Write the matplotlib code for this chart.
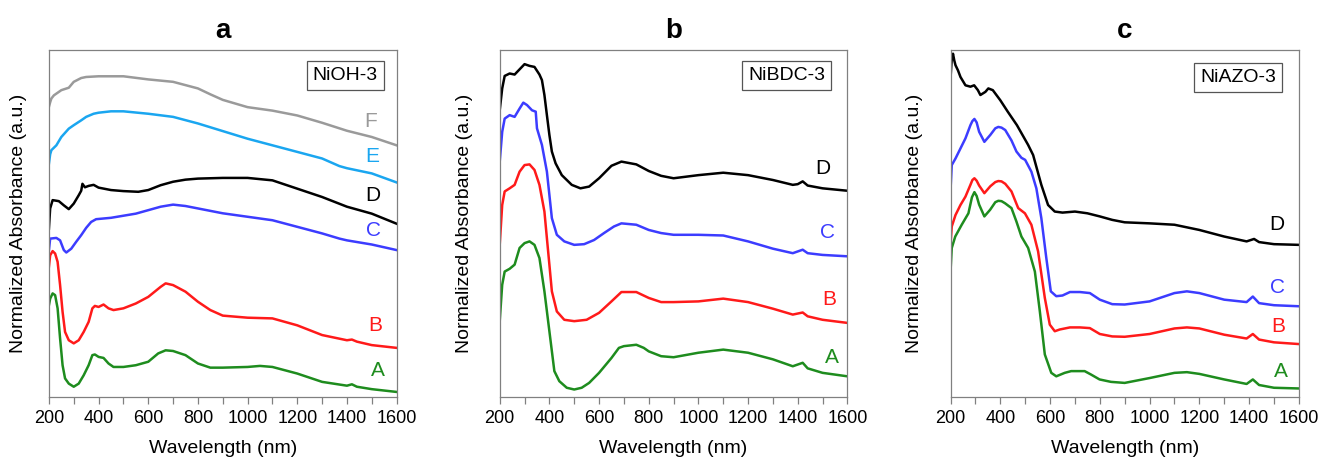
import matplotlib
matplotlib.use('Agg')
import matplotlib.pyplot as plt
from matplotlib.ticker import MultipleLocator

plt.rcParams['font.family'] = ['Liberation Sans', 'DejaVu Sans']

GREEN = '#1e8c1e'
RED = '#ff1a1a'
BLUE = '#3c3cff'
SKY = '#1aa6f0'
GREY = '#9a9a9a'
BLACK = '#000000'

# ---- panel a : NiOH-3 ----
nioh_A_wl = [200, 205, 215, 225, 235, 245, 255, 265, 280, 300, 320, 340, 360, 375, 385, 400, 420, 440, 460,
             500, 550, 600, 640, 670, 700, 750, 800, 850, 900, 1000, 1050, 1100, 1200, 1300, 1400, 1420,
             1440, 1500, 1600]
nioh_A = [26.5, 28.4, 29.9, 29.4, 25.6, 16.9, 9.2, 5.4, 3.9, 3.0, 3.9, 6.3, 9.2, 12.1, 12.3, 11.6, 11.3, 9.7,
          8.7, 8.7, 9.2, 10.2, 12.6, 13.5, 13.3, 12.1, 9.7, 8.5, 8.5, 8.7, 9.0, 8.7, 6.8, 4.4, 3.3, 3.7,
          3.0, 2.3, 1.5]
nioh_B_wl = [200, 205, 215, 225, 235, 245, 255, 265, 280, 300, 320, 340, 360, 375, 385, 400, 420, 440, 460,
             500, 550, 600, 650, 670, 700, 750, 800, 850, 900, 1000, 1100, 1200, 1300, 1400, 1420, 1440,
             1500, 1600]
nioh_B = [37.6, 40.9, 42.1, 41.4, 39.0, 32.3, 24.6, 18.8, 16.4, 15.5, 16.4, 18.8, 21.7, 25.6, 26.3, 26.0,
          26.7, 25.6, 25.1, 25.6, 27.0, 28.9, 31.8, 32.8, 32.3, 30.4, 27.5, 25.1, 23.5, 22.9, 22.7, 20.7,
          17.9, 16.4, 16.6, 16.0, 15.0, 14.2]
nioh_C_wl = [200, 205, 230, 245, 260, 270, 290, 310, 330, 350, 370, 390, 420, 450, 500, 550, 600, 650, 700,
             750, 800, 900, 1000, 1100, 1200, 1300, 1370, 1400, 1500, 1600]
nioh_C = [42.4, 45.7, 45.9, 45.2, 42.4, 41.7, 42.8, 44.8, 46.7, 48.8, 50.5, 51.3, 51.5, 51.7, 52.3, 52.9,
          53.9, 54.9, 55.5, 55.1, 54.4, 53.0, 52.0, 51.0, 49.1, 47.2, 45.7, 45.2, 44.0, 42.4]
nioh_D_wl = [200, 205, 215, 240, 260, 280, 300, 320, 330, 335, 345, 360, 380, 400, 450, 500, 560, 600, 650,
             700, 750, 800, 900, 1000, 1100, 1200, 1300, 1400, 1450, 1500, 1600]
nioh_D = [48.6, 54.4, 56.8, 56.5, 55.3, 54.2, 55.8, 58.2, 59.5, 61.5, 60.5, 60.9, 61.2, 60.4, 59.7, 59.4,
          59.2, 59.7, 61.1, 62.1, 62.7, 63.0, 63.2, 63.2, 62.5, 60.1, 57.7, 54.9, 53.9, 52.9, 50.0]
nioh_E_wl = [200, 205, 210, 230, 250, 280, 300, 330, 340, 350, 380, 400, 450, 500, 600, 700, 800, 850, 900,
             1000, 1100, 1200, 1300, 1370, 1400, 1500, 1600]
nioh_E = [67.3, 70.0, 71.2, 72.6, 75.0, 77.4, 78.4, 79.8, 80.3, 80.8, 81.7, 82.0, 82.4, 82.4, 81.7, 80.8,
          78.9, 77.8, 76.7, 74.5, 72.6, 70.7, 68.8, 66.6, 66.0, 64.5, 61.9]
nioh_F_wl = [200, 205, 210, 220, 250, 280, 300, 330, 350, 400, 500, 600, 700, 800, 850, 900, 1000, 1100,
             1200, 1300, 1400, 1500, 1600]
nioh_F = [83.7, 85.0, 86.1, 87.0, 88.5, 89.2, 90.9, 92.0, 92.3, 92.5, 92.5, 91.6, 90.9, 89.0, 87.3, 85.7,
          83.6, 82.6, 81.2, 79.1, 76.8, 75.0, 72.6]

# ---- panel b : NiBDC-3 ----
nibdc_A_wl = [200, 210, 220, 240, 260, 280, 300, 320, 340, 350, 360, 380, 400, 420, 440, 470, 500, 530, 560,
              600, 650, 680, 700, 750, 780, 800, 850, 900, 1000, 1100, 1200, 1300, 1380, 1420, 1440, 1500,
              1600]
nibdc_A = [21.9, 32.4, 36.2, 37.0, 38.2, 43.0, 44.4, 44.9, 43.9, 42.0, 40.1, 30.5, 19.0, 7.5, 4.6, 2.7, 2.2,
           2.7, 4.1, 7.0, 11.3, 14.2, 14.7, 15.1, 14.2, 13.2, 11.8, 11.5, 12.8, 13.7, 12.8, 10.9, 8.9, 9.9,
           8.3, 7.0, 6.0]
nibdc_B_wl = [200, 210, 220, 240, 260, 280, 300, 320, 340, 360, 380, 390, 400, 410, 430, 460, 500, 550, 600,
              650, 690, 750, 800, 850, 900, 1000, 1100, 1200, 1300, 1380, 1420, 1440, 1500, 1600]
nibdc_B = [43.9, 55.4, 59.3, 60.2, 61.2, 65.0, 66.9, 67.1, 65.5, 61.2, 53.5, 45.8, 38.2, 30.5, 24.7, 22.3,
           21.9, 22.3, 24.3, 27.6, 30.3, 30.3, 28.6, 27.4, 27.4, 27.6, 28.4, 27.4, 25.5, 23.8, 24.4, 23.3,
           22.3, 21.4]
nibdc_C_wl = [200, 210, 220, 240, 260, 280, 295, 310, 330, 345, 350, 370, 390, 400, 410, 430, 460, 500, 540,
              580, 620, 660, 690, 750, 800, 850, 900, 1000, 1100, 1200, 1300, 1380, 1420, 1440, 1500, 1600]
nibdc_C = [67.9, 76.5, 80.3, 81.3, 80.8, 83.2, 84.9, 84.2, 82.7, 82.3, 77.5, 72.7, 65.0, 58.3, 51.6, 46.8,
           44.9, 43.9, 44.1, 45.3, 47.3, 49.2, 50.1, 49.7, 48.2, 47.3, 46.8, 46.8, 46.6, 44.9, 42.8, 41.5,
           42.5, 41.5, 41.0, 40.6]
nibdc_D_wl = [200, 210, 220, 240, 260, 280, 300, 320, 340, 360, 370, 380, 390, 400, 410, 425, 450, 490, 525,
              560, 600, 650, 690, 750, 800, 850, 900, 1000, 1100, 1200, 1300, 1380, 1400, 1420, 1440, 1500,
              1600]
nibdc_D = [82.7, 89.0, 92.6, 93.3, 93.0, 94.5, 96.0, 95.5, 95.2, 93.0, 91.4, 87.1, 81.3, 75.6, 70.8, 67.4,
           64.0, 61.2, 60.2, 60.7, 63.1, 66.7, 67.9, 67.1, 65.2, 63.8, 63.1, 64.0, 64.7, 64.0, 62.6, 61.2,
           61.4, 62.2, 61.0, 60.2, 59.5]

# ---- panel c : NiAZO-3 ----
niazo_A_wl = [200, 205, 219, 245, 272, 286, 296, 305, 315, 336, 359, 380, 392, 405, 419, 445, 465, 485, 512,
              539, 559, 579, 605, 625, 659, 685, 739, 765, 799, 845, 900, 1000, 1100, 1150, 1200, 1300, 1390,
              1415, 1440, 1500, 1600]
niazo_A = [36.2, 43.0, 46.3, 49.7, 53.0, 57.6, 59.1, 58.0, 55.5, 52.1, 54.0, 56.2, 56.6, 56.5, 55.9, 54.5,
           50.6, 46.3, 43.0, 36.2, 24.7, 12.3, 7.0, 6.0, 7.0, 7.5, 7.5, 6.5, 5.1, 4.4, 4.1, 5.5, 7.0, 7.2,
           6.7, 5.1, 3.8, 5.1, 3.5, 2.7, 2.5]
niazo_B_wl = [200, 205, 220, 240, 260, 280, 288, 296, 305, 315, 336, 360, 380, 392, 405, 420, 445, 472, 499,
              525, 552, 579, 599, 619, 639, 680, 720, 760, 800, 850, 900, 1000, 1100, 1150, 1200, 1300, 1390,
              1415, 1440, 1500, 1600]
niazo_B = [43.9, 49.2, 52.5, 55.4, 57.8, 61.2, 62.6, 63.1, 62.4, 61.0, 58.8, 60.8, 62.0, 62.3, 62.2, 61.5,
           59.3, 54.5, 53.0, 49.7, 42.0, 28.6, 20.9, 19.0, 19.5, 20.1, 20.1, 19.9, 18.2, 17.5, 17.4, 18.2,
           19.8, 20.1, 19.8, 18.0, 16.9, 18.2, 16.6, 15.8, 15.3]
niazo_C_wl = [200, 205, 220, 240, 260, 280, 288, 296, 305, 315, 336, 360, 380, 392, 405, 420, 445, 465, 485,
              500, 525, 545, 565, 585, 603, 625, 650, 680, 720, 760, 800, 850, 900, 1000, 1100, 1150, 1200,
              1300, 1390, 1415, 1440, 1500, 1600]
niazo_C = [59.7, 66.9, 68.8, 71.7, 74.6, 78.4, 79.6, 80.2, 79.2, 76.5, 73.6, 75.6, 77.5, 77.9, 77.7, 77.0,
           74.0, 70.8, 69.0, 68.4, 65.0, 60.2, 51.6, 40.1, 30.5, 29.1, 29.3, 30.3, 30.3, 30.0, 28.1, 26.8,
           26.7, 27.6, 30.0, 30.5, 30.0, 28.1, 27.4, 29.0, 27.1, 26.5, 26.2]
niazo_D_wl = [200, 205, 210, 215, 220, 230, 240, 260, 280, 295, 310, 320, 340, 352, 370, 400, 430, 467, 512,
              532, 565, 592, 619, 650, 700, 750, 800, 850, 900, 1000, 1100, 1200, 1300, 1390, 1420, 1440,
              1500, 1600]
niazo_D = [91.9, 97.6, 99.0, 97.1, 95.7, 94.2, 92.3, 89.9, 89.5, 89.9, 88.5, 87.1, 88.0, 89.0, 88.5, 85.6,
           82.3, 78.4, 72.7, 69.8, 61.2, 55.4, 53.5, 53.2, 53.5, 53.0, 52.1, 51.1, 50.4, 50.1, 49.7, 48.2,
           46.3, 44.9, 45.6, 44.7, 44.1, 43.9]

panels = [
    ('a', 'NiOH-3', [(nioh_A_wl, nioh_A, GREEN, 'A', (0.945, 0.078)),
                     (nioh_B_wl, nioh_B, RED, 'B', (0.940, 0.207)),
                     (nioh_C_wl, nioh_C, BLUE, 'C', (0.934, 0.481)),
                     (nioh_D_wl, nioh_D, BLACK, 'D', (0.931, 0.582)),
                     (nioh_E_wl, nioh_E, SKY, 'E', (0.929, 0.695)),
                     (nioh_F_wl, nioh_F, GREY, 'F', (0.925, 0.795))],
     (0.037, 0.131, 0.263, 0.759), (0.852, 0.928), -0.063),
    ('b', 'NiBDC-3', [(nibdc_A_wl, nibdc_A, GREEN, 'A', (0.955, 0.114)),
                      (nibdc_B_wl, nibdc_B, RED, 'B', (0.947, 0.281)),
                      (nibdc_C_wl, nibdc_C, BLUE, 'C', (0.942, 0.474)),
                      (nibdc_D_wl, nibdc_D, BLACK, 'D', (0.930, 0.658))],
     (0.378, 0.131, 0.263, 0.759), (0.825, 0.927), -0.077),
    ('c', 'NiAZO-3', [(niazo_A_wl, niazo_A, GREEN, 'A', (0.948, 0.074)),
                      (niazo_B_wl, niazo_B, RED, 'B', (0.941, 0.203)),
                      (niazo_C_wl, niazo_C, BLUE, 'C', (0.939, 0.315)),
                      (niazo_D_wl, niazo_D, BLACK, 'D', (0.937, 0.497))],
     (0.719, 0.131, 0.2635, 0.759), (0.825, 0.921), -0.078),
]

fig = plt.figure(figsize=(13.22, 4.57), dpi=100)

for letter, name, curves, rect, boxpos, ylab_x in panels:
    ax = fig.add_axes(rect)
    for wl, vals, col, lab, lpos in curves:
        ax.plot(wl, vals, color=col, lw=1.8, solid_joinstyle='round')
        ax.text(lpos[0], lpos[1], lab, color=col, fontsize=15, ha='center', va='center',
                transform=ax.transAxes)
    ax.text(boxpos[0], boxpos[1], name, fontsize=14, ha='center', va='center', transform=ax.transAxes,
            bbox=dict(boxstyle='square,pad=0.3', fc='white', ec='#555555', lw=0.9))
    ax.set_xlim(200, 1600)
    ax.set_ylim(0, 100)
    ax.set_yticks([])
    ax.xaxis.set_major_locator(MultipleLocator(200))
    ax.xaxis.set_minor_locator(MultipleLocator(100))
    ax.tick_params(axis='x', which='both', direction='out', length=5, width=0.9, color='#808080',
                   labelsize=13, pad=4)
    for sp in ax.spines.values():
        sp.set_color('#808080')
        sp.set_linewidth(0.9)
    ax.set_xlabel('Wavelength (nm)', fontsize=14)
    ax.xaxis.set_label_coords(0.5, -0.125)
    ax.set_ylabel('Normalized Absorbance (a.u.)', fontsize=14)
    ax.yaxis.set_label_coords(ylab_x, 0.5)
    ax.set_title(letter, fontsize=20, fontweight='bold', pad=9)

fig.savefig('out.png', dpi=100)
